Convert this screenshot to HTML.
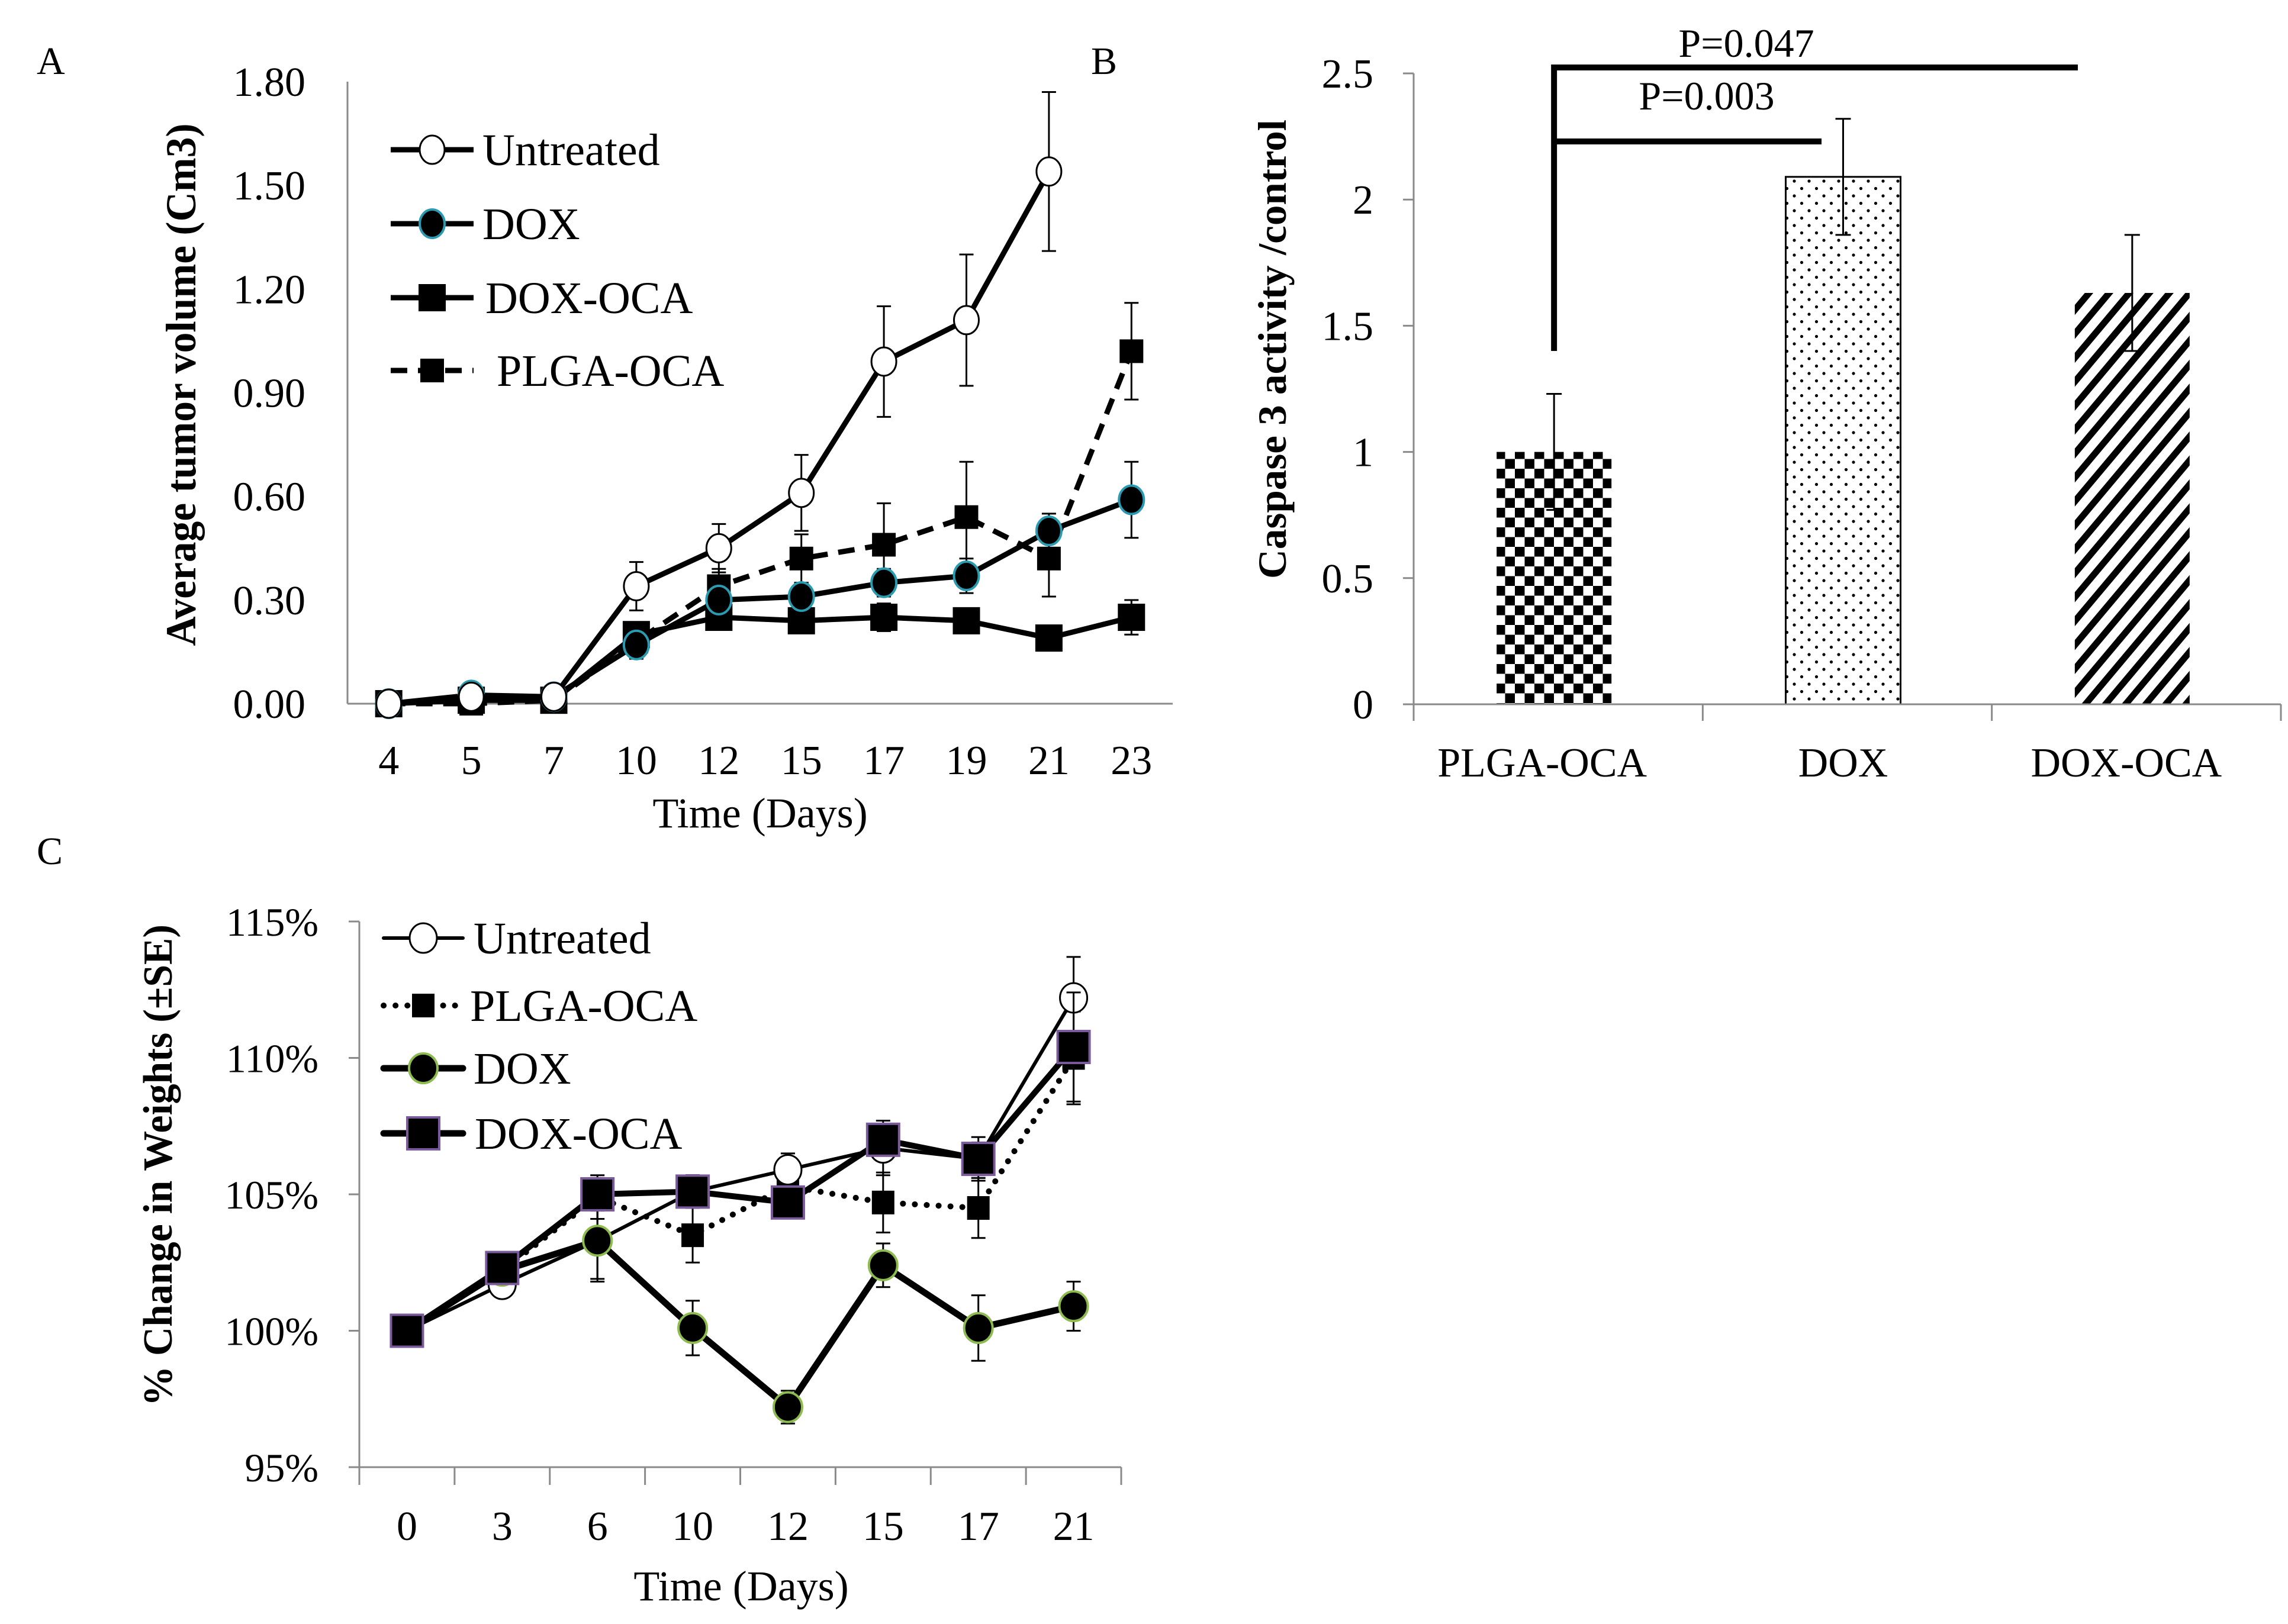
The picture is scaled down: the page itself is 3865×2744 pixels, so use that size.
<!DOCTYPE html>
<html><head><meta charset="utf-8"><style>
html,body{margin:0;padding:0;background:#fff;}
svg{display:block;font-family:"Liberation Serif",serif;}
</style></head><body>
<svg id="fig" width="3865" height="2744" viewBox="0 0 3865 2744" xmlns="http://www.w3.org/2000/svg">
<defs>
<pattern id="checker" patternUnits="userSpaceOnUse" width="33" height="33" x="2526" y="0">
<rect width="33" height="33" fill="#fff"/><rect width="16.5" height="16.5" fill="#000"/><rect x="16.5" y="16.5" width="16.5" height="16.5" fill="#000"/>
</pattern>
<pattern id="dots" patternUnits="userSpaceOnUse" width="25" height="25">
<rect width="25" height="25" fill="#fff"/><circle cx="6" cy="6" r="2.6" fill="#000"/><circle cx="18.5" cy="18.5" r="2.6" fill="#000"/>
</pattern>
<pattern id="stripes" patternUnits="userSpaceOnUse" width="26" height="26" patternTransform="rotate(40)">
<rect width="26" height="26" fill="#fff"/><rect width="11" height="26" fill="#000"/>
</pattern>
</defs>
<text x="62" y="125" font-size="66">A</text>
<text x="1843" y="125" font-size="66">B</text>
<text x="62" y="1460" font-size="66">C</text>
<g id="pa"></g>
<g id="pb"></g>
<g id="pc"></g>
</svg>
<script>
// ---- Panel A data ----
const aDays = ["4","5","7","10","12","15","17","19","21","23"];
const aTicks = [0, 0.3, 0.6, 0.9, 1.2, 1.5, 1.8];
const aTickLabels = ["0.00","0.30","0.60","0.90","1.20","1.50","1.80"];
const aUntreated = [0, 0.02, 0.02, 0.34, 0.45, 0.61, 0.99, 1.11, 1.54, null];
const aUntreatedErr = [0, 0, 0, 0.07, 0.07, 0.11, 0.16, 0.19, 0.23, null];
const aDox = [0, 0.025, 0.02, 0.17, 0.30, 0.31, 0.35, 0.37, 0.50, 0.59];
const aDoxErr = [0, 0, 0, 0.04, 0.03, 0.04, 0.04, 0.05, 0.05, 0.11];
const aDoxOca = [0, 0.01, 0.01, 0.20, 0.25, 0.24, 0.25, 0.24, 0.19, 0.25];
const aDoxOcaErr = [0, 0, 0, 0.03, 0.03, 0.03, 0.04, 0.03, 0.03, 0.05];
const aPlga = [0, 0.0, 0.01, 0.18, 0.34, 0.42, 0.46, 0.54, 0.42, 1.02];
const aPlgaErr = [0, 0, 0, 0.03, 0.05, 0.07, 0.12, 0.16, 0.11, 0.14];
// ---- Panel B data ----
const bCats = ["PLGA-OCA","DOX","DOX-OCA"];
const bVals = [1.0, 2.09, 1.63];
const bErr = [0.23, 0.23, 0.23];
const bTicks = [0, 0.5, 1, 1.5, 2, 2.5];
const bTickLabels = ["0","0.5","1","1.5","2","2.5"];
const bSigLabels = ["P=0.047","P=0.003"];
// ---- Panel C data ----
const cDays = ["0","3","6","10","12","15","17","21"];
const cTicks = [95, 100, 105, 110, 115];
const cTickLabels = ["95%","100%","105%","110%","115%"];
const cUntreated = [100, 101.7, 103.3, 105.1, 105.9, 106.7, 106.3, 112.2];
const cUntreatedErr = [0, 0.3, 1.5, 0.6, 0.6, 1.0, 0.8, 1.5];
const cPlga = [100, 102.2, 104.9, 103.5, 105.3, 104.7, 104.5, 110.0];
const cPlgaErr = [0, 0.5, 0.8, 1.0, 0.6, 1.1, 1.1, 1.7];
const cDox = [100, 102.2, 103.3, 100.1, 97.2, 102.4, 100.1, 100.9];
const cDoxErr = [0, 0.4, 1.4, 1.0, 0.6, 0.8, 1.2, 0.9];
const cDoxOca = [100, 102.3, 105.0, 105.1, 104.7, 107.0, 106.3, 110.4];
const cDoxOcaErr = [0, 0.4, 0.6, 0.6, 0.5, 0.5, 0.6, 2.0];

const NS = "http://www.w3.org/2000/svg";
function mk(parent, tag, attrs, txt){
  const e = document.createElementNS(NS, tag);
  for (const k in attrs) e.setAttribute(k, attrs[k]);
  if (txt !== undefined) e.textContent = txt;
  parent.appendChild(e);
  return e;
}

// ---------- Panel A ----------
(function(){
  const g = document.getElementById('pa');
  const x0 = 587, x1 = 1981, yb = 1189, yt = 138;
  const band = (x1 - x0) / aDays.length;
  const X = i => x0 + band * (i + 0.5);
  const Y = v => yb - v / 1.8 * (yb - yt);
  let e;
  e = mk(g,'line',{x1:x0,y1:yt,x2:x0,y2:yb,stroke:'#8a8a8a','stroke-width':3});
   
  e = mk(g,'line',{x1:x0,y1:yb,x2:x1,y2:yb,stroke:'#8a8a8a','stroke-width':3});
   
  aTicks.forEach((t,i)=>{
    e = mk(g,'text',{x:516,y:Y(t)+24,'font-size':70,'text-anchor':'end'},aTickLabels[i]);
     
  });
  aDays.forEach((d,i)=>{
    e = mk(g,'text',{x:X(i),y:1308,'font-size':70,'text-anchor':'middle'},d);
     
  });
  e = mk(g,'text',{x:1284,y:1398,'font-size':72,'text-anchor':'middle'},'Time (Days)');
   
  e = mk(g,'text',{x:0,y:0,'font-size':72,'font-weight':'bold','text-anchor':'middle',transform:'translate(330,650) rotate(-90)',textLength:883,lengthAdjust:'spacingAndGlyphs'},'Average tumor volume (Cm3)');
   

  function drawMarker(sg, m, cx, cy){
    let e;
    if (m==='open') e = mk(sg,'ellipse',{cx:cx,cy:cy,rx:21,ry:24,fill:'#fff',stroke:'#000','stroke-width':3});
    else if (m==='teal') e = mk(sg,'ellipse',{cx:cx,cy:cy,rx:21,ry:24,fill:'#000',stroke:'#2a9bb0','stroke-width':4});
    else if (m==='sq') e = mk(sg,'rect',{x:cx-23,y:cy-23,width:46,height:46,fill:'#000'});
    else e = mk(sg,'rect',{x:cx-20,y:cy-20,width:40,height:40,fill:'#000'});
     
  }
  function series(vals, errs, name, dash, marker){
    const sg = mk(g,'g',{});
    
    
    vals.forEach((v,i)=>{
      if (v===null || !errs[i]) return;
      const cx = X(i), ya = Y(v+errs[i]), yb2 = Y(v-errs[i]);
      e = mk(sg,'path',{d:`M${cx},${ya}V${yb2}M${cx-12},${ya}H${cx+12}M${cx-12},${yb2}H${cx+12}`,stroke:'#000','stroke-width':3,fill:'none'});
       
    });
    let d=''; vals.forEach((v,i)=>{ if(v!==null) d += (d?'L':'M')+X(i)+','+Y(v); });
    e = mk(sg,'path',{d:d,stroke:'#000','stroke-width':9,fill:'none','stroke-dasharray':dash||'none','stroke-linejoin':'round'});
     
    vals.forEach((v,i)=>{
      if (v===null) return;
      drawMarker(sg, marker, X(i), Y(v));
    });
  }
  series(aDoxOca, aDoxOcaErr, 'series-dox-oca', null, 'sq');
  series(aPlga, aPlgaErr, 'series-plga-oca', '28,18', 'sqs');
  series(aDox, aDoxErr, 'series-dox', null, 'teal');
  series(aUntreated, aUntreatedErr, 'series-untreated', null, 'open');
  const leg = [['Untreated',253,null,'open',815],['DOX',378,null,'teal',815],['DOX-OCA',503,null,'sq',820],['PLGA-OCA',626,'28,18','sqs',839]];
  leg.forEach(l=>{
    const lg = mk(g,'g',{});
    
    
    mk(lg,'line',{x1:660,y1:l[1],x2:800,y2:l[1],stroke:'#000','stroke-width':9,'stroke-dasharray':l[2]||'none'});
    drawMarker(lg,l[3],730,l[1]);
    mk(lg,'text',{x:l[4],y:l[1]+26,'font-size':76},l[0]);
  });
})();

// ---------- Panel B ----------
(function(){
  const g = document.getElementById('pb');
  const x0 = 2388, x1 = 3853, yb = 1190, yt = 124;
  const band = (x1-x0)/bCats.length;
  const X = i => x0 + band*(i+0.5) - 7;
  const Y = v => yb - v/2.5*(yb-yt);
  const fills = ['url(#checker)','url(#dots)','url(#stripes)'];
  let e;
  bVals.forEach((v,i)=>{
    e = mk(g,'rect',{x:X(i)-97,y:Y(v),width:194,height:yb-Y(v),fill:fills[i],stroke:i===1?'#000':'none','stroke-width':3});
     
    const cx = X(i), ya = Y(v+bErr[i]), yb2 = Y(v-bErr[i]);
    e = mk(g,'path',{d:`M${cx},${ya}V${yb2}M${cx-13},${ya}H${cx+13}M${cx-13},${yb2}H${cx+13}`,stroke:'#000','stroke-width':3,fill:'none'});
     
  });
  e = mk(g,'line',{x1:x0,y1:yt,x2:x0,y2:yb,stroke:'#8a8a8a','stroke-width':3});
   
  e = mk(g,'line',{x1:x0,y1:yb,x2:x1,y2:yb,stroke:'#8a8a8a','stroke-width':3});
   
  for (let i=0;i<=bCats.length;i++){
    e = mk(g,'line',{x1:x0+band*i,y1:yb,x2:x0+band*i,y2:yb+28,stroke:'#8a8a8a','stroke-width':3});
     
  }
  bTicks.forEach((t,i)=>{
    e = mk(g,'line',{x1:x0-18,y1:Y(t),x2:x0,y2:Y(t),stroke:'#8a8a8a','stroke-width':3});
     
    e = mk(g,'text',{x:2320,y:Y(t)+24,'font-size':70,'text-anchor':'end'},bTickLabels[i]);
     
  });
  bCats.forEach((c,i)=>{
    e = mk(g,'text',{x:X(i)+(i===0?-20:i===2?-10:0),y:1312,'font-size':70,'text-anchor':'middle'},c);
     
  });
  e = mk(g,'text',{x:0,y:0,'font-size':68,'font-weight':'bold','text-anchor':'middle',transform:'translate(2172,590) rotate(-90)',textLength:776,lengthAdjust:'spacingAndGlyphs'},'Caspase 3 activity /control');
   
  const vx = X(0);
  e = mk(g,'path',{d:`M${vx},${Y(1.4)}V114H3510M${vx},239H3077`,stroke:'#000','stroke-width':10,fill:'none'});
   
  e = mk(g,'text',{x:2950,y:96,'font-size':68,'text-anchor':'middle'},bSigLabels[0]);
   
  e = mk(g,'text',{x:2883,y:185,'font-size':68,'text-anchor':'middle'},bSigLabels[1]);
   
})();

// ---------- Panel C ----------
(function(){
  const g = document.getElementById('pc');
  const x0 = 607, x1 = 1894, yb = 2479, yt = 1557;
  const band = (x1-x0)/cDays.length;
  const X = i => x0 + band*(i+0.5);
  const Y = v => yb - (v-95)/20*(yb-yt);
  let e;
  e = mk(g,'line',{x1:x0,y1:yt,x2:x0,y2:yb,stroke:'#8a8a8a','stroke-width':3});
   
  e = mk(g,'line',{x1:x0,y1:yb,x2:x1,y2:yb,stroke:'#8a8a8a','stroke-width':3});
   
  for (let i=0;i<=cDays.length;i++){
    e = mk(g,'line',{x1:x0+band*i,y1:yb,x2:x0+band*i,y2:yb+30,stroke:'#8a8a8a','stroke-width':3});
     
  }
  cTicks.forEach((t,i)=>{
    e = mk(g,'line',{x1:x0-18,y1:Y(t),x2:x0,y2:Y(t),stroke:'#8a8a8a','stroke-width':3});
     
    e = mk(g,'text',{x:538,y:Y(t)+24,'font-size':68,'text-anchor':'end'},cTickLabels[i]);
     
  });
  cDays.forEach((d,i)=>{
    e = mk(g,'text',{x:X(i),y:2602,'font-size':70,'text-anchor':'middle'},d);
     
  });
  e = mk(g,'text',{x:1252,y:2704,'font-size':72,'text-anchor':'middle'},'Time (Days)');
   
  e = mk(g,'text',{x:0,y:0,'font-size':70,'font-weight':'bold','text-anchor':'middle',transform:'translate(290,1969) rotate(-90)',textLength:814,lengthAdjust:'spacingAndGlyphs'},'% Change in Weights (±SE)');
   

  function drawMarker(sg, m, cx, cy){
    let e;
    if (m==='open') e = mk(sg,'ellipse',{cx:cx,cy:cy,rx:23,ry:25,fill:'#fff',stroke:'#000','stroke-width':3});
    else if (m==='green') e = mk(sg,'ellipse',{cx:cx,cy:cy,rx:24,ry:25,fill:'#000',stroke:'#8dbb4f','stroke-width':4});
    else if (m==='purple') e = mk(sg,'rect',{x:cx-27,y:cy-27,width:54,height:54,fill:'#000',stroke:'#7b5a9c','stroke-width':4});
    else e = mk(sg,'rect',{x:cx-19,y:cy-20,width:38,height:40,fill:'#000'});
     
  }
  function series(vals, errs, name, dash, width, marker){
    const sg = mk(g,'g',{});
    
    
    vals.forEach((v,i)=>{
      if (!errs[i]) return;
      const cx = X(i), ya = Y(v+errs[i]), yb2 = Y(v-errs[i]);
      e = mk(sg,'path',{d:`M${cx},${ya}V${yb2}M${cx-12},${ya}H${cx+12}M${cx-12},${yb2}H${cx+12}`,stroke:'#000','stroke-width':3,fill:'none'});
       
    });
    let d=''; vals.forEach((v,i)=>{ d += (i?'L':'M')+X(i)+','+Y(v); });
    e = mk(sg,'path',{d:d,stroke:'#000','stroke-width':width,fill:'none','stroke-dasharray':dash||'none','stroke-linecap':dash?'round':'butt','stroke-linejoin':'round'});
     
    vals.forEach((v,i)=>drawMarker(sg, marker, X(i), Y(v)));
  }
  series(cPlga, cPlgaErr, 'series-plga-oca', '0.1,20', 10, 'sq');
  series(cUntreated, cUntreatedErr, 'series-untreated', null, 6, 'open');
  series(cDox, cDoxErr, 'series-dox', null, 11, 'green');
  series(cDoxOca, cDoxOcaErr, 'series-dox-oca', null, 10, 'purple');
  const leg = [['Untreated',1585,null,'open',800,6],['PLGA-OCA',1699,'0.1,20','sq',794,10],['DOX',1805,null,'green',800,11],['DOX-OCA',1915,null,'purple',802,11]];
  leg.forEach(l=>{
    const lg = mk(g,'g',{});
    
    
    mk(lg,'line',{x1:648,y1:l[1],x2:782,y2:l[1],stroke:'#000','stroke-width':l[5],'stroke-dasharray':l[2]||'none','stroke-linecap':'round'});
    drawMarker(lg,l[3],715,l[1]);
    mk(lg,'text',{x:l[4],y:l[1]+26,'font-size':76},l[0]);
  });
})();
</script>
</body></html>
